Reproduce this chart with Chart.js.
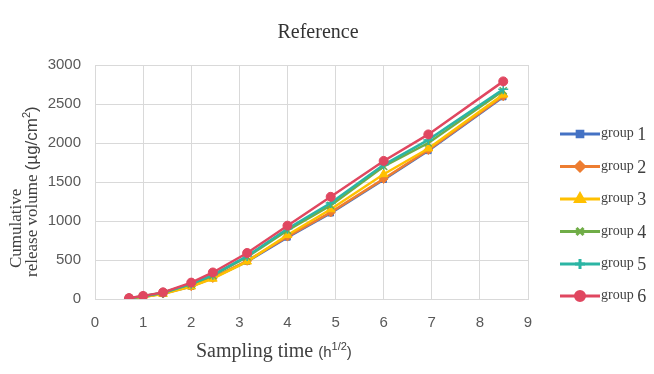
<!DOCTYPE html>
<html lang="en">
<head>
<meta charset="UTF-8">
<title>Reference</title>
<script src="https://cdn.jsdelivr.net/npm/chart.js"></script>
<style>
  html, body { margin: 0; padding: 0; background: #fff; }
  #wrap { width: 654px; height: 374px; }
</style>
</head>
<body>
<div id="wrap"><canvas id="chart" width="654" height="374"></canvas></div>
<script>
// sampling time (square root of hours)
const times = [0.707, 1, 1.414, 2, 2.449, 3.162, 4, 4.899, 6, 6.928, 8.485];

const group1 = [5, 25, 70, 160, 270, 480, 790, 1100, 1530, 1900, 2590];
const group2 = [8, 30, 70, 165, 270, 490, 800, 1110, 1540, 1910, 2600];
const group3 = [5, 25, 65, 160, 260, 480, 820, 1150, 1600, 1930, 2620];
const group4 = [10, 35, 80, 190, 300, 540, 880, 1200, 1700, 2000, 2670];
const group5 = [10, 35, 80, 195, 310, 550, 900, 1230, 1720, 2040, 2690];
const group6 = [12, 40, 85, 210, 340, 590, 940, 1310, 1770, 2110, 2790];

const groupNames = ['group 1', 'group 2', 'group 3', 'group 4', 'group 5', 'group 6'];
const yTicks = [0, 500, 1000, 1500, 2000, 2500, 3000];

const colors = ['#4472C4', '#ED7D31', '#FFC000', '#70AD47', '#2BB5A4', '#E04760'];
const markers = ['rect', 'rectRot', 'triangle', 'crossRot', 'cross', 'circle'];
const radii = [4, 4.5, 5, 5, 5, 4.5];

const allGroups = [group1, group2, group3, group4, group5, group6];

const datasets = allGroups.map((vals, i) => ({
    label: groupNames[i],
    data: vals.map((v, j) => ({ x: times[j], y: v })),
    borderColor: colors[i],
    backgroundColor: colors[i],
    pointStyle: markers[i],
    pointRadius: radii[i],
    pointBorderWidth: (markers[i] === 'cross' || markers[i] === 'crossRot') ? 1.5 : 1,
    borderWidth: 2.5,
    tension: 0,
    order: 6 - i
}));

// titles, axis titles and legend drawn by hand so mixed fonts work
const extras = {
    id: 'extras',
    afterDraw(chart) {
        const ctx = chart.ctx;
        ctx.save();
        ctx.fillStyle = '#333';
        ctx.textBaseline = 'alphabetic';

        // chart title
        ctx.font = '20px "Liberation Serif"';
        ctx.textAlign = 'center';
        ctx.fillText('Reference', 318, 38);

        // x axis title
        ctx.textAlign = 'left';
        ctx.fillStyle = '#404040';
        ctx.font = '20px "Liberation Serif"';
        ctx.fillText('Sampling time', 196, 357);
        let w = ctx.measureText('Sampling time ').width;
        ctx.font = '15px "Liberation Sans"';
        ctx.fillText('(h', 196 + w, 357);
        let w2 = ctx.measureText('(h').width;
        ctx.font = '11px "Liberation Sans"';
        ctx.fillText('1/2', 196 + w + w2, 350);
        let w3 = ctx.measureText('1/2').width;
        ctx.font = '15px "Liberation Sans"';
        ctx.fillText(')', 196 + w + w2 + w3, 357);

        // y axis title (two lines, rotated)
        ctx.save();
        ctx.translate(21, 268);
        ctx.rotate(-Math.PI / 2);
        ctx.font = '17px "Liberation Serif"';
        ctx.fillText('Cumulative', 0, 0);
        ctx.restore();

        ctx.save();
        ctx.translate(37, 277);
        ctx.rotate(-Math.PI / 2);
        ctx.font = '17px "Liberation Serif"';
        ctx.fillText('release volume ', 0, 0);
        let a = ctx.measureText('release volume ').width;
        ctx.font = '17px "Liberation Sans"';
        ctx.fillText('(\u00b5g/cm', a, 0);
        let b = ctx.measureText('(\u00b5g/cm').width;
        ctx.font = '11px "Liberation Sans"';
        ctx.fillText('2', a + b, -7);
        let c = ctx.measureText('2').width;
        ctx.font = '17px "Liberation Sans"';
        ctx.fillText(')', a + b + c, 0);
        ctx.restore();

        // legend
        const legendY = [134, 166.5, 199, 231.5, 264, 296];
        chart.data.datasets.forEach((ds, i) => {
            const y = legendY[i];
            ctx.strokeStyle = ds.borderColor;
            ctx.lineWidth = 3;
            ctx.beginPath();
            ctx.moveTo(560, y);
            ctx.lineTo(600, y);
            ctx.stroke();
            ctx.fillStyle = ds.borderColor;
            Chart.helpers.drawPoint(ctx, {
                pointStyle: ds.pointStyle,
                radius: ds.pointRadius,
                borderWidth: ds.pointBorderWidth,
                rotation: 0
            }, 580, y);

            const parts = ds.label.split(' ');
            ctx.fillStyle = '#404040';
            ctx.font = '14px "Liberation Serif"';
            ctx.fillText(parts[0], 601, y + 3);
            const gw = ctx.measureText(parts[0] + ' ').width;
            ctx.font = '18px "Liberation Serif"';
            ctx.fillText(parts[1], 601 + gw, y + 6);
        });

        ctx.restore();
    }
};

new Chart(document.getElementById('chart'), {
    type: 'line',
    data: { datasets: datasets },
    options: {
        responsive: false,
        animation: false,
        devicePixelRatio: 1,
        layout: { padding: { top: 65, right: 126, left: 0, bottom: 0 } },
        plugins: {
            legend: { display: false },
            title: { display: false },
            tooltip: { enabled: false }
        },
        scales: {
            x: {
                type: 'linear',
                min: 0,
                max: 9,
                ticks: { stepSize: 1, color: '#595959', font: { family: 'Liberation Sans', size: 15 }, padding: 15,
                    callback: v => String(v) },
                grid: { color: '#d9d9d9', drawTicks: false },
                border: { color: '#d9d9d9' },
                afterFit(scale) { scale.height = 75; }
            },
            y: {
                min: 0,
                max: 3000,
                afterBuildTicks(scale) { scale.ticks = yTicks.map(v => ({ value: v })); },
                ticks: { color: '#595959', font: { family: 'Liberation Sans', size: 15 }, padding: 14,
                    callback: v => String(v) },
                grid: { color: '#d9d9d9', drawTicks: false },
                border: { color: '#d9d9d9' },
                afterFit(scale) { scale.width = 95; }
            }
        }
    },
    plugins: [extras]
});
</script>
</body>
</html>
